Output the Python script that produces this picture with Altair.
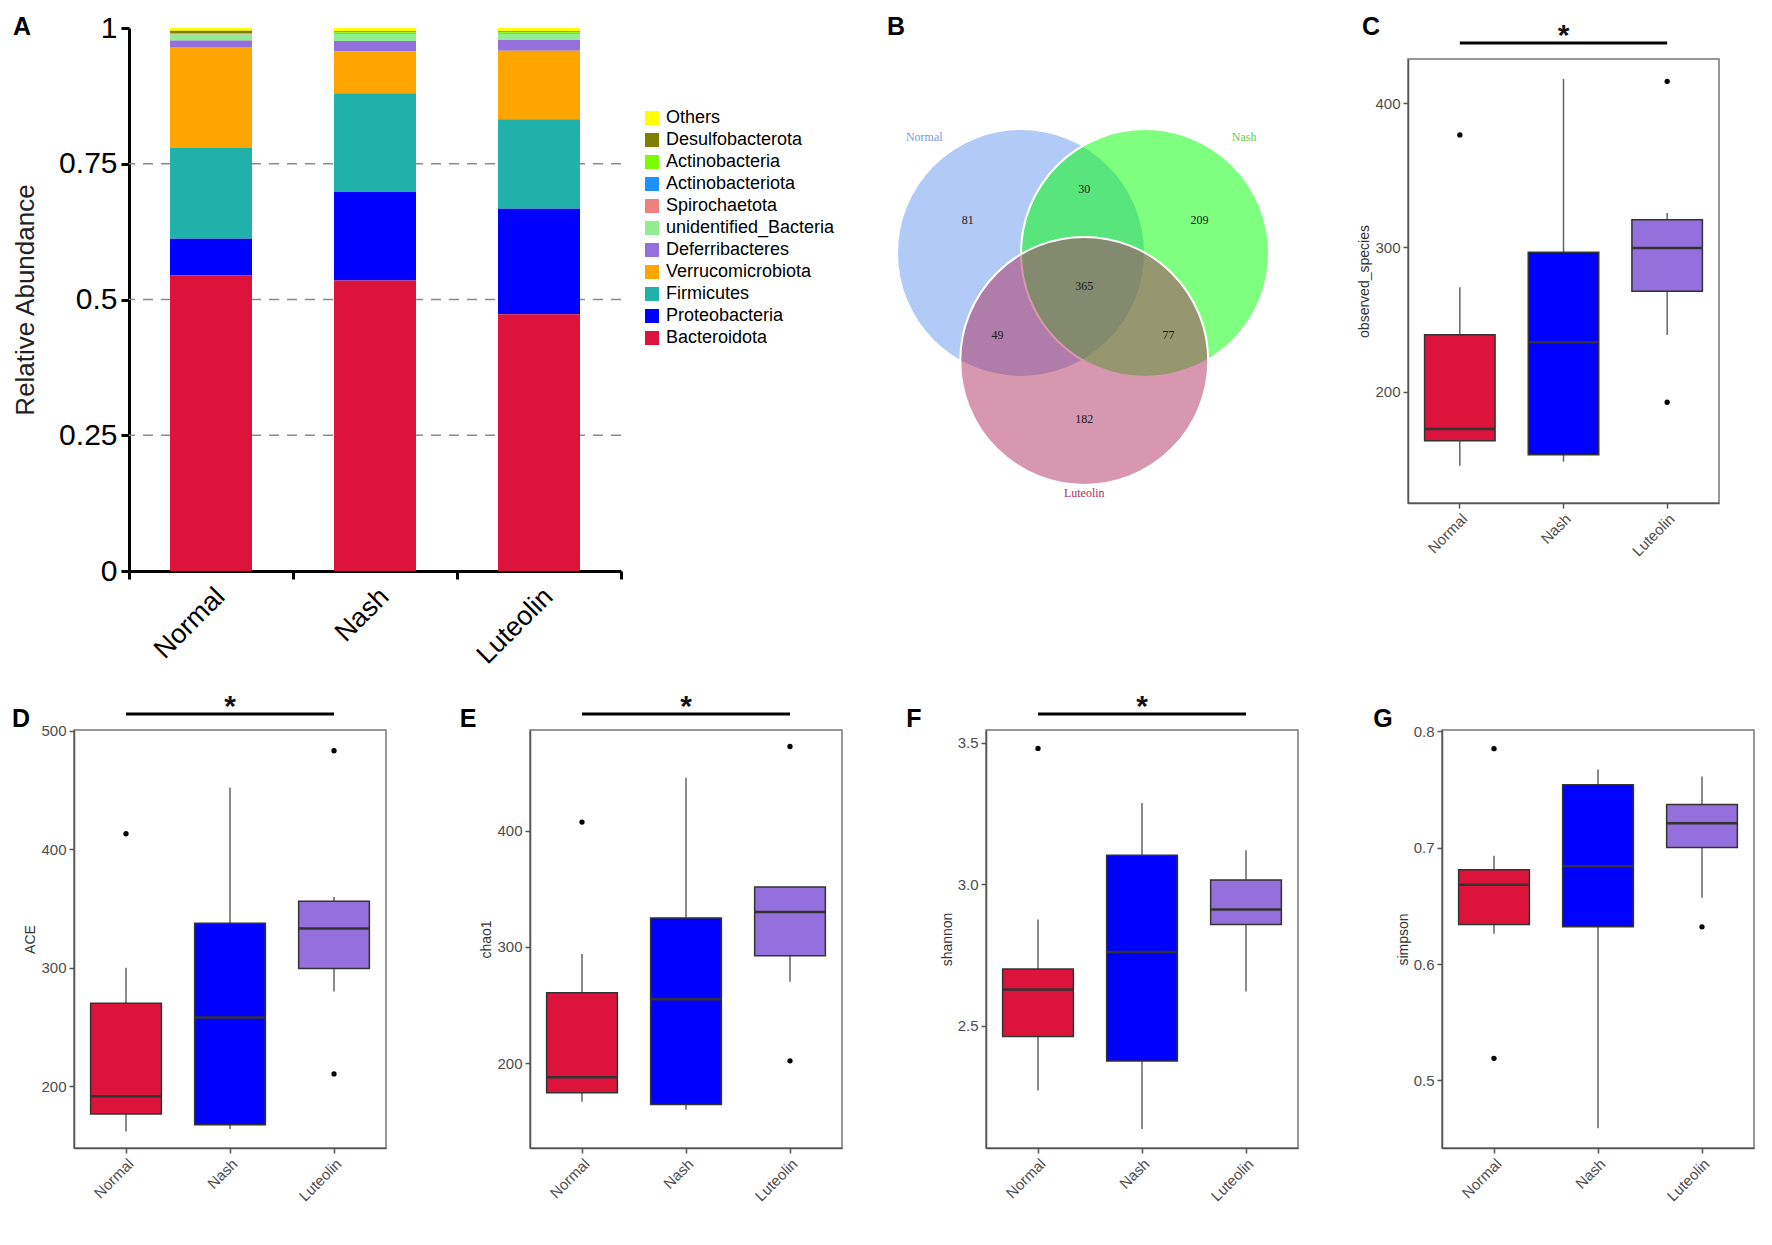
import altair as alt
import pandas as pd

# ---------------- data ----------------
groups = ["Normal", "Nash", "Luteolin"]
group_colors = ["#DC143C", "#0000FF", "#9370DB"]

# Panel A: relative abundance (legend order, top -> bottom)
phyla = ["Others", "Desulfobacterota", "Actinobacteria", "Actinobacteriota",
         "Spirochaetota", "unidentified_Bacteria", "Deferribacteres",
         "Verrucomicrobiota", "Firmicutes", "Proteobacteria", "Bacteroidota"]
phyla_colors = ["#FFFF00", "#808000", "#7CFC00", "#1E90FF", "#F08080", "#90EE90",
                "#9370DB", "#FFA500", "#20B2AA", "#0000FF", "#DC143C"]
abund_normal = [0.005, 0.004, 0.001, 0.001, 0.001, 0.011, 0.012, 0.186, 0.167, 0.068, 0.544]
abund_nash = [0.006, 0.002, 0.001, 0.001, 0.001, 0.013, 0.019, 0.077, 0.182, 0.163, 0.535]
abund_luteolin = [0.006, 0.002, 0.001, 0.001, 0.001, 0.011, 0.020, 0.126, 0.165, 0.194, 0.473]
abund_ticks = [0, 0.25, 0.5, 0.75, 1]
abund_grid = [0.25, 0.5, 0.75]

# Panel B: Venn counts
venn_sets = ["Normal", "Nash", "Luteolin"]
venn_fill = ["#6495ED", "#00FF00", "#B03060"]
venn_label_colors = ["#7B9BDB", "#55D055", "#B03060"]
venn_regions = ["Normal only", "Normal & Nash", "Nash only", "All three",
                "Normal & Luteolin", "Nash & Luteolin", "Luteolin only"]
venn_counts = [81, 30, 209, 365, 49, 77, 182]
# Venn layout (in units of circle radius)
venn_cx = [0.0, 1.0, 0.51]
venn_cy = [0.0, 0.0, -0.87]
venn_count_u = [-0.43, 0.51, 1.44, 0.51, -0.19, 1.19, 0.51]
venn_count_v = [0.27, 0.52, 0.27, -0.27, -0.66, -0.66, -1.34]
venn_label_u = [-0.78, 1.80, 0.51]
venn_label_v = [0.935, 0.935, -1.935]

# Panels C-G: box plot statistics (Normal, Nash, Luteolin)
obs_lower = [148.7, 151.5, 239.3]
obs_q1 = [166.0, 156.3, 269.6]
obs_median = [174.2, 234.2, 299.6]
obs_q3 = [239.5, 296.6, 319.2]
obs_upper = [272.3, 416.7, 323.8]
obs_out_group = ["Normal", "Luteolin", "Luteolin"]
obs_out_value = [377.9, 415.0, 192.7]

ace_lower = [162.0, 164.0, 280.0]
ace_q1 = [176.7, 167.7, 299.4]
ace_median = [191.7, 258.0, 333.0]
ace_q3 = [270.0, 337.5, 356.0]
ace_upper = [300.0, 452.0, 359.7]
ace_out_group = ["Normal", "Luteolin", "Luteolin"]
ace_out_value = [413.0, 483.0, 210.5]

chao_lower = [166.8, 160.0, 270.0]
chao_q1 = [174.6, 164.4, 292.4]
chao_median = [187.9, 255.0, 330.0]
chao_q3 = [260.7, 325.0, 351.7]
chao_upper = [294.0, 445.6, 351.7]
chao_out_group = ["Normal", "Luteolin", "Luteolin"]
chao_out_value = [407.5, 472.5, 202.0]

sha_lower = [2.27, 2.134, 2.62]
sha_q1 = [2.461, 2.375, 2.857]
sha_median = [2.627, 2.76, 2.91]
sha_q3 = [2.70, 3.102, 3.015]
sha_upper = [2.875, 3.287, 3.12]
sha_out_group = ["Normal"]
sha_out_value = [3.48]

sim_lower = [0.626, 0.459, 0.657]
sim_q1 = [0.634, 0.632, 0.700]
sim_median = [0.668, 0.684, 0.721]
sim_q3 = [0.681, 0.754, 0.737]
sim_upper = [0.693, 0.767, 0.761]
sim_out_group = ["Normal", "Normal", "Luteolin"]
sim_out_value = [0.785, 0.519, 0.632]

FONT = "Liberation Sans"
NOSTROKE = alt.ViewBackground(stroke="transparent")


def letter_layer(letter, dx, dy):
    return alt.Chart(pd.DataFrame({"t": [letter]})).mark_text(
        fontSize=25, fontWeight="bold", font=FONT, align="center",
        baseline="middle", color="black"
    ).encode(text="t:N", x=alt.value(dx), y=alt.value(dy))


def spacer(w, h):
    return alt.Chart(pd.DataFrame({"a": [0]})).mark_point(opacity=0).encode(
        x=alt.X("a:Q", axis=None), y=alt.Y("a:Q", axis=None)
    ).properties(width=w, height=h, view=NOSTROKE)


# ---------------- Panel A ----------------
A_W, A_H = 492, 543
rows = []
for g, vals in zip(groups, [abund_normal, abund_nash, abund_luteolin]):
    for i, (p, v) in enumerate(zip(phyla, vals)):
        rows.append({"group": g, "phylum": p, "value": v, "rank": len(phyla) - 1 - i})
dfA = pd.DataFrame(rows)

xA = alt.X("group:N", sort=groups, title=None,
           scale=alt.Scale(domain=groups, paddingInner=0, paddingOuter=0),
           axis=alt.Axis(labelAngle=-45, labelAlign="right", labelBaseline="top",
                         labelFontSize=27, labelColor="black", labelPadding=4,
                         domainColor="black", domainWidth=3, tickColor="black",
                         tickWidth=3, tickSize=8, tickBand="extent"))
yA_axis = alt.Axis(values=abund_ticks, labelExpr="'' + datum.value", labelFontSize=30,
                   labelColor="black", domainColor="black", domainWidth=3,
                   tickColor="black", tickWidth=3, tickSize=8, grid=False, labelPadding=4,
                   title="Relative Abundance", titleFontSize=26, titleFontWeight="normal",
                   titleColor="#222", titlePadding=20)
yA_scale = alt.Scale(domain=[0, 1], nice=False)

gridA = alt.Chart(pd.DataFrame({"value": abund_grid})).mark_rule(
    strokeDash=[10, 8], color="#8a8a8a", strokeWidth=1.5
).encode(y=alt.Y("value:Q", scale=yA_scale, axis=yA_axis))

barsA = alt.Chart(dfA).mark_bar(width=alt.RelativeBandSize(0.5)).encode(
    x=xA,
    y=alt.Y("value:Q", stack="zero", scale=yA_scale, axis=yA_axis),
    color=alt.Color("phylum:N", scale=alt.Scale(domain=phyla, range=phyla_colors),
                    legend=alt.Legend(title=None, orient="none", legendX=514, legendY=81,
                                      symbolType="square", symbolSize=196,
                                      symbolStrokeWidth=0, labelFontSize=18,
                                      labelColor="black", labelFont=FONT,
                                      rowPadding=4, labelOffset=5, labelLimit=300)),
    order=alt.Order("rank:Q"),
)
chartA = alt.layer(gridA, barsA, letter_layer("A", -107, -1)).properties(
    width=A_W, height=A_H, view=NOSTROKE)

# ---------------- Panel B (Venn) ----------------
B_W, B_H = 420, 491
R = 124.0
bx_dom = [-(140 / R), (420 - 140) / R]
by_dom = [-(491 - 225) / R, 225 / R]
bxs = alt.Scale(domain=bx_dom, nice=False, zero=False)
bys = alt.Scale(domain=by_dom, nice=False, zero=False)

dfCirc = pd.DataFrame({"set": venn_sets, "u": venn_cx, "v": venn_cy, "fill": venn_fill})
circles = alt.Chart(dfCirc).mark_point(
    shape="circle", filled=True, size=(2 * R) ** 2, opacity=1, fillOpacity=0.5,
    stroke="white", strokeWidth=2, strokeOpacity=1
).encode(x=alt.X("u:Q", scale=bxs, axis=None), y=alt.Y("v:Q", scale=bys, axis=None),
         fill=alt.Fill("fill:N", scale=None))
dfCnt = pd.DataFrame({"region": venn_regions, "n": venn_counts,
                      "u": venn_count_u, "v": venn_count_v})
counts = alt.Chart(dfCnt).mark_text(font="Liberation Serif", fontSize=12, color="#1a1a1a").encode(
    x=alt.X("u:Q", scale=bxs, axis=None), y=alt.Y("v:Q", scale=bys, axis=None), text="n:Q")
dfLab = pd.DataFrame({"set": venn_sets, "u": venn_label_u, "v": venn_label_v,
                      "c": venn_label_colors})
labels = alt.Chart(dfLab).mark_text(font="Liberation Serif", fontSize=12).encode(
    x=alt.X("u:Q", scale=bxs, axis=None), y=alt.Y("v:Q", scale=bys, axis=None),
    text="set:N", color=alt.Color("c:N", scale=None))
chartB = alt.layer(circles, counts, labels, letter_layer("B", 15, -1)).properties(
    width=B_W, height=B_H, view=NOSTROKE)


# ---------------- Box panels ----------------
def box_panel(lower, q1, med, q3, upper, out_g, out_v, domain, ticks, fmt, ytitle,
              letter, ldx, ldy, w, h, sig):
    df = pd.DataFrame({"group": groups, "lower": lower, "q1": q1, "median": med,
                       "q3": q3, "upper": upper, "col": group_colors})
    dfo = pd.DataFrame({"group": out_g, "value": out_v})
    xs = alt.Scale(domain=groups, paddingInner=0, paddingOuter=0)
    xax = alt.Axis(title=None, labelAngle=-45, labelAlign="right", labelBaseline="top",
                   labelFontSize=15, labelColor="#4d4d4d", labelPadding=3,
                   domainColor="#555", domainWidth=1.5, tickColor="#555",
                   tickWidth=1.5, tickSize=5)
    x = alt.X("group:N", sort=groups, scale=xs, axis=xax)
    ys = alt.Scale(domain=domain, nice=False, zero=False)
    yax = alt.Axis(values=ticks, format=fmt, title=ytitle, titleFontSize=14,
                   titleFontWeight="normal", titleColor="#333", titlePadding=3,
                   labelFontSize=15, labelColor="#4d4d4d", labelPadding=3,
                   domainColor="#555", domainWidth=1.5, tickColor="#555",
                   tickWidth=1.5, tickSize=5, grid=False)
    base = alt.Chart(df)
    whisk = base.mark_rule(color="#666", strokeWidth=1.5).encode(
        x=x, y=alt.Y("lower:Q", scale=ys, axis=yax), y2="upper:Q")
    box = base.mark_bar(width=alt.RelativeBandSize(0.68), stroke="#333", strokeWidth=1.5).encode(
        x=x, y=alt.Y("q1:Q", scale=ys, axis=yax), y2="q3:Q", color=alt.Color("col:N", scale=None))
    medl = base.mark_tick(color="#333", thickness=2.5, size=0.68 * w / 3, opacity=1).encode(
        x=x, y=alt.Y("median:Q", scale=ys, axis=yax))
    outs = alt.Chart(dfo).mark_circle(color="black", size=28, opacity=1).encode(
        x=x, y=alt.Y("value:Q", scale=ys, axis=yax))
    layers = [whisk, box, medl, outs, letter_layer(letter, ldx, ldy)]
    if sig:
        dfs = pd.DataFrame({"group": ["Normal"], "g2": ["Luteolin"], "mid": ["Nash"], "s": ["*"]})
        bar = alt.Chart(dfs).mark_rule(color="black", strokeWidth=3).encode(
            x=x, x2="g2:N", y=alt.value(-16))
        star = alt.Chart(dfs).mark_text(fontSize=30, fontWeight="bold", font=FONT,
                                        baseline="alphabetic", color="#111").encode(
            x=alt.X("mid:N", sort=groups, scale=xs, axis=xax), y=alt.value(-14), text="s:N")
        layers += [bar, star]
    return alt.layer(*layers).properties(
        width=w, height=h, view=alt.ViewBackground(stroke="#777", strokeWidth=1.5))


chartC = box_panel(obs_lower, obs_q1, obs_median, obs_q3, obs_upper, obs_out_group,
                   obs_out_value, [122.9, 430.5], [200, 300, 400], "d", "observed_species",
                   "C", -37, -32, 311, 444, True)
chartD = box_panel(ace_lower, ace_q1, ace_median, ace_q3, ace_upper, ace_out_group,
                   ace_out_value, [148, 500.5], [200, 300, 400, 500], "d", "ACE",
                   "D", -53, -11, 312, 418, True)
chartE = box_panel(chao_lower, chao_q1, chao_median, chao_q3, chao_upper, chao_out_group,
                   chao_out_value, [127, 486.7], [200, 300, 400], "d", "chao1",
                   "E", -62, -11, 312, 418, True)
chartF = box_panel(sha_lower, sha_q1, sha_median, sha_q3, sha_upper, sha_out_group,
                   sha_out_value, [2.067, 3.545], [2.5, 3.0, 3.5], ".1f", "shannon",
                   "F", -72, -11, 312, 418, True)
chartG = box_panel(sim_lower, sim_q1, sim_median, sim_q3, sim_upper, sim_out_group,
                   sim_out_value, [0.442, 0.801], [0.5, 0.6, 0.7, 0.8], ".1f", "simpson",
                   "G", -59, -11, 312, 418, False)


def ind(c):
    return c.resolve_scale(x="independent", y="independent", color="independent")


# flush layout: only direct children's width/height count, so keep rows flat
c_col = ind(alt.vconcat(spacer(311, 31), chartC, spacing=0, bounds="flush"))
top = ind(alt.hconcat(spacer(55, 10), chartA, spacer(260, 10), chartB, spacer(107, 10), c_col,
                      spacing=0, bounds="flush"))
bottom = ind(alt.hconcat(chartD, chartE, chartF, chartG, spacing=144, bounds="flush"))

# the nested top row counts as zero height, so the spacing is the full offset of row 2
chart = ind(alt.vconcat(top, bottom, spacing=702, bounds="flush")).properties(
    padding={"left": 3, "top": 4, "right": 5, "bottom": 5}
).configure(font=FONT, background="white")

chart.save("out.html", embed_options={"renderer": "svg", "actions": False})
